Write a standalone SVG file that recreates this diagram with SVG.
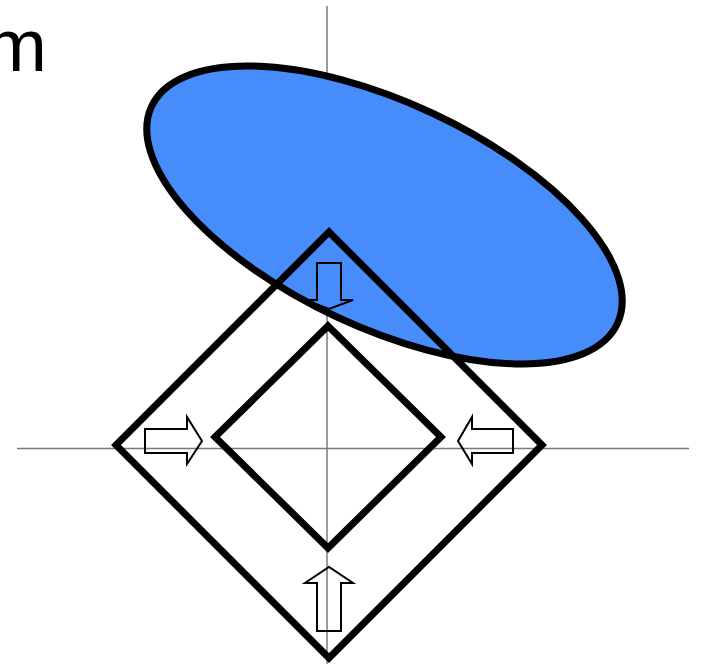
<svg xmlns="http://www.w3.org/2000/svg" width="702" height="668" viewBox="0 0 702 668">
  <style>
    .axis { stroke: #7a7a7a; stroke-width: 1.5; fill: none; }
    .thick { stroke: #000; stroke-width: 7; stroke-linejoin: miter; stroke-miterlimit: 10; }
    .blk { fill: none; stroke: #000; stroke-width: 2; stroke-linejoin: miter; }
    .lbl { font-family: "Liberation Sans", Arial, sans-serif; font-size: 74px; fill: #000; }
  </style>
  <rect width="702" height="668" fill="#fff"/>
  <g id="axes">
    <line class="axis" x1="327" y1="6" x2="327" y2="664"/>
    <line class="axis" x1="17" y1="448.5" x2="689" y2="448.5"/>
  </g>
  <text class="lbl" x="47" y="71" text-anchor="end">m</text>
  <g id="ellipse">
    <ellipse class="thick" cx="384.5" cy="215" rx="257" ry="112.5" transform="rotate(25 384.5 215)" fill="#468cfa"/>
  </g>
  <g id="outer-diamond">
    <polygon class="thick" points="329,232 542,445 329,658 116,445" fill="none"/>
  </g>
  <g id="inner-diamond">
    <polygon class="thick" points="328,326 441,437 328,548 215,437" fill="none"/>
  </g>
  <g id="connectors">
    <polygon class="blk" points="317,263 341,263 341,300 353,300 329,309 305,300 317,300"/>
    <polygon class="blk" points="145,429 187,429 187,417 202,441 187,464 187,453 145,453"/>
    <polygon class="blk" points="513,429 472,429 472,417 458,441 472,464 472,453 513,453"/>
    <polygon class="blk" points="317,631 341,631 341,583 353,583 329,567 305,583 317,583"/>
  </g>
</svg>
